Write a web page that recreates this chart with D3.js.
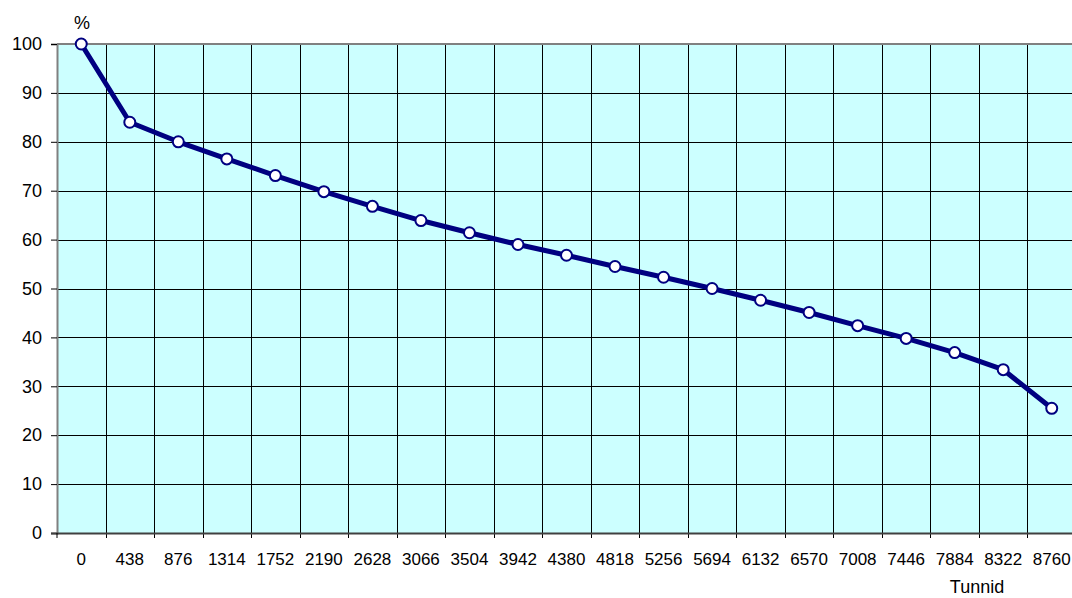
<!DOCTYPE html>
<html>
<head>
<meta charset="utf-8">
<script src="https://d3js.org/d3.v7.min.js"></script>
<style>
  body { margin: 0; background: #fff; }
  svg { display: block; font-family: Arial, "Liberation Sans", sans-serif; }
</style>
</head>
<body>
<div id="chart"></div>
<script>
// hours (category labels) and share in %
var hours = ["0", "438", "876", "1314", "1752", "2190", "2628", "3066", "3504", "3942", "4380",
             "4818", "5256", "5694", "6132", "6570", "7008", "7446", "7884", "8322", "8760"];
var percent = [100, 84, 80, 76.5, 73.1, 69.8, 66.8, 63.9, 61.4, 59.0, 56.8,
               54.5, 52.3, 50.0, 47.6, 45.1, 42.4, 39.8, 36.9, 33.4, 25.5];
var yTicks = [0, 10, 20, 30, 40, 50, 60, 70, 80, 90, 100];

var w = 1072, h = 598;
var plotL = 57, plotR = 1076, plotT = 44, plotB = 533;

var svg = d3.select("#chart").append("svg")
  .attr("width", w)
  .attr("height", h);

var x = d3.scaleBand().domain(hours).range([plotL, plotR]).padding(0);
var y = d3.scaleLinear().domain([0, 100]).range([plotB, plotT]);

// plot background
svg.append("rect")
  .attr("x", plotL)
  .attr("y", plotT)
  .attr("width", plotR - plotL)
  .attr("height", plotB - plotT)
  .style("fill", "#ccffff");

// horizontal grid
svg.append("g")
  .selectAll("line")
  .data(yTicks.filter(d => d > 0 && d < 100))
  .join("line")
  .attr("x1", plotL).attr("x2", plotR)
  .attr("y1", d => Math.round(y(d)) + 0.5).attr("y2", d => Math.round(y(d)) + 0.5)
  .style("stroke", "#000")
  .style("stroke-width", 1);

// vertical grid at category boundaries
svg.append("g")
  .selectAll("line")
  .data(hours.slice(1))
  .join("line")
  .attr("x1", d => Math.round(x(d)) + 0.5).attr("x2", d => Math.round(x(d)) + 0.5)
  .attr("y1", plotT).attr("y2", plotB + 5)
  .style("stroke", "#000")
  .style("stroke-width", 1);

// top border
svg.append("line")
  .attr("x1", plotL).attr("x2", plotR)
  .attr("y1", plotT).attr("y2", plotT)
  .style("stroke", "#808080")
  .style("stroke-width", 2);

// y axis
var yAxis = svg.append("g")
  .attr("transform", `translate(${plotL},0)`)
  .call(d3.axisLeft(y).tickValues(yTicks).tickSize(6).tickPadding(9).tickFormat(d3.format("d")));
yAxis.select(".domain").attr("stroke", "#808080").attr("stroke-width", 2);
yAxis.selectAll(".tick line").attr("stroke", "#000");
yAxis.selectAll(".tick text")
  .style("font-size", "18px")
  .style("font-family", "Arial, 'Liberation Sans', sans-serif")
  .attr("fill", "#000");

// x axis (labels centred in bands, ticks at boundaries)
svg.append("line")
  .attr("x1", plotL - 6).attr("x2", plotR)
  .attr("y1", plotB + 0.5).attr("y2", plotB + 0.5)
  .style("stroke", "#404040")
  .style("stroke-width", 2);

svg.append("line")
  .attr("x1", plotL).attr("x2", plotL)
  .attr("y1", plotB).attr("y2", plotB + 5)
  .style("stroke", "#000");

svg.append("g")
  .selectAll("text")
  .data(hours)
  .join("text")
  .attr("x", d => x(d) + x.bandwidth() / 2)
  .attr("y", 565)
  .attr("text-anchor", "middle")
  .style("font-size", "17px")
  .text(d => d);

// line + markers
var line = d3.line()
  .x((d, i) => x(hours[i]) + x.bandwidth() / 2)
  .y(d => y(d));

svg.append("path")
  .datum(percent)
  .attr("d", line)
  .style("fill", "none")
  .style("stroke", "#000080")
  .style("stroke-width", 5)
  .style("stroke-linejoin", "round");

svg.append("g")
  .selectAll("circle")
  .data(percent)
  .join("circle")
  .attr("cx", (d, i) => x(hours[i]) + x.bandwidth() / 2)
  .attr("cy", d => y(d))
  .attr("r", 5.5)
  .style("fill", "#fff")
  .style("stroke", "#000080")
  .style("stroke-width", 2);

// axis titles
svg.append("text")
  .attr("x", 82)
  .attr("y", 29)
  .attr("text-anchor", "middle")
  .style("font-size", "18px")
  .text("%");

svg.append("text")
  .attr("x", 977)
  .attr("y", 593)
  .attr("text-anchor", "middle")
  .style("font-size", "18px")
  .text("Tunnid");
</script>
</body>
</html>
